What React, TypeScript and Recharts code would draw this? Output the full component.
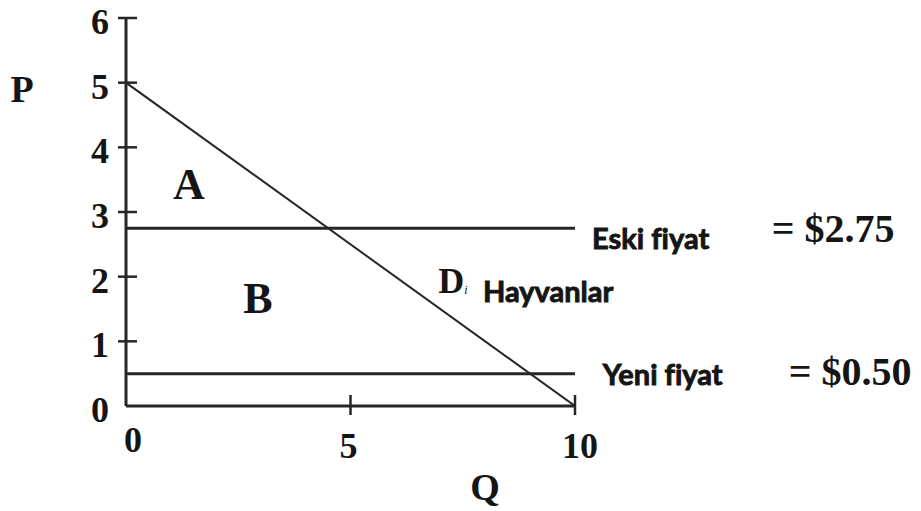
import React from 'react';
import { ComposedChart, Line, XAxis, YAxis, ReferenceDot, Label } from 'recharts';

// Demand curve for animals and the two price levels
const demand = [
  { q: 0, p: 5 },
  { q: 10, p: 0 },
];
const oldPrice = 2.75;
const newPrice = 0.5;
const oldPriceLine = [
  { q: 0, p: oldPrice },
  { q: 10, p: oldPrice },
];
const newPriceLine = [
  { q: 0, p: newPrice },
  { q: 10, p: newPrice },
];
const qTicks = [0, 5, 10];
const pTicks = [0, 1, 2, 3, 4, 5, 6];
const oldPriceText = 'Eski fiyat';
const newPriceText = 'Yeni fiyat';
const demandText = 'Hayvanlar';

const SERIF = '"Liberation Serif", "Times New Roman", serif';
const SANS = 'Lato, "Open Sans", sans-serif';
const INK = '#151515';
const LINE = '#262626';

const PTick = (props: any) => {
  const { x, y, payload } = props;
  return (
    <g>
      {payload.value > 0 && (
        <line x1={x - 8} x2={x + 11} y1={y} y2={y} stroke={LINE} strokeWidth={2.5} />
      )}
      <text
        x={x - 17}
        y={y + 4}
        textAnchor="end"
        dominantBaseline="central"
        fontFamily={SERIF}
        fontWeight="bold"
        fontSize={36}
        fill={INK}
      >
        {payload.value}
      </text>
    </g>
  );
};

const QTick = (props: any) => {
  const { x, y, payload } = props;
  const isOrigin = payload.value === 0;
  return (
    <g>
      {!isOrigin && (
        <line x1={x} x2={x} y1={y - 11} y2={y + 9} stroke={LINE} strokeWidth={2.5} />
      )}
      <text
        x={isOrigin ? x + 7 : payload.value === 5 ? x - 2 : x + 5}
        y={isOrigin ? y + 34 : y + 40}
        textAnchor="middle"
        dominantBaseline="central"
        fontFamily={SERIF}
        fontWeight="bold"
        fontSize={36}
        fill={INK}
      >
        {payload.value}
      </text>
    </g>
  );
};

const textShape =
  (text: string, family: string, size: number, anchor: 'start' | 'middle' = 'middle', heavy = false) =>
  (props: any) =>
    (
      <text
        x={props.cx}
        y={props.cy}
        textAnchor={anchor}
        dominantBaseline="central"
        fontFamily={family}
        fontWeight="bold"
        fontSize={size}
        fill={INK}
        stroke={heavy ? INK : 'none'}
        strokeWidth={heavy ? 0.9 : 0}
        style={{ fontVariantLigatures: 'none' }}
      >
        {text}
      </text>
    );

const demandShape = (props: any) => (
  <text
    x={props.cx}
    y={props.cy}
    textAnchor="middle"
    dominantBaseline="central"
    fontFamily={SERIF}
    fontWeight="bold"
    fontSize={36}
    fill={INK}
  >
    D
    <tspan fontSize={12} fontStyle="italic" fontWeight="normal" dy={9}>
      i
    </tspan>
  </text>
);

export default function App() {
  return (
    <div style={{ position: 'absolute', left: 0, top: 0, width: 921, height: 511, background: '#fff' }}>
      <ComposedChart
        width={921}
        height={511}
        margin={{ top: 18, right: 346, bottom: 0, left: 0 }}
      >
        <XAxis
          type="number"
          dataKey="q"
          domain={[0, 10]}
          ticks={qTicks}
          height={105}
          tickSize={0}
          tickMargin={0}
          tickLine={false}
          axisLine={{ stroke: LINE, strokeWidth: 3 }}
          tick={<QTick />}
          allowDataOverflow
        >
          <Label
            content={(p: any) => (
              <text
                x={485}
                y={p.viewBox.y + 81}
                textAnchor="middle"
                dominantBaseline="central"
                fontFamily={SERIF}
                fontWeight="bold"
                fontSize={38}
                fill={INK}
              >
                Q
              </text>
            )}
          />
        </XAxis>
        <YAxis
          type="number"
          dataKey="p"
          domain={[0, 6]}
          ticks={pTicks}
          width={126}
          tickSize={0}
          tickMargin={0}
          tickLine={false}
          axisLine={{ stroke: LINE, strokeWidth: 3 }}
          tick={<PTick />}
          allowDataOverflow
        >
          <Label
            content={(p: any) => (
              <text
                x={p.viewBox.x + 22}
                y={p.viewBox.y + 71}
                textAnchor="middle"
                dominantBaseline="central"
                fontFamily={SERIF}
                fontWeight="bold"
                fontSize={38}
                fill={INK}
              >
                P
              </text>
            )}
          />
        </YAxis>

        <Line
          data={oldPriceLine}
          dataKey="p"
          type="linear"
          stroke={LINE}
          strokeWidth={3}
          dot={false}
          isAnimationActive={false}
        />
        <Line
          data={newPriceLine}
          dataKey="p"
          type="linear"
          stroke={LINE}
          strokeWidth={3}
          dot={false}
          isAnimationActive={false}
        />
        <Line
          data={demand}
          dataKey="p"
          type="linear"
          stroke={LINE}
          strokeWidth={2}
          dot={false}
          isAnimationActive={false}
        />

        <ReferenceDot x={1.4} y={3.42} r={0} ifOverflow="visible" shape={textShape('A', SERIF, 44)} />
        <ReferenceDot x={2.94} y={1.67} r={0} ifOverflow="visible" shape={textShape('B', SERIF, 44)} />
        <ReferenceDot x={7.28} y={1.93} r={0} ifOverflow="visible" shape={demandShape} />
        <ReferenceDot x={7.95} y={1.79} r={0} ifOverflow="visible" shape={textShape(demandText, SANS, 29, 'start', true)} />
        <ReferenceDot x={10.38} y={2.61} r={0} ifOverflow="visible" shape={textShape(oldPriceText, SANS, 29, 'start', true)} />
        <ReferenceDot x={10.62} y={0.5} r={0} ifOverflow="visible" shape={textShape(newPriceText, SANS, 29, 'start', true)} />
        <ReferenceDot x={15.75} y={2.75} r={0} ifOverflow="visible" shape={textShape(`= $${oldPrice.toFixed(2)}`, SERIF, 40)} />
        <ReferenceDot x={16.13} y={0.53} r={0} ifOverflow="visible" shape={textShape(`= $${newPrice.toFixed(2)}`, SERIF, 40)} />
      </ComposedChart>
    </div>
  );
}
